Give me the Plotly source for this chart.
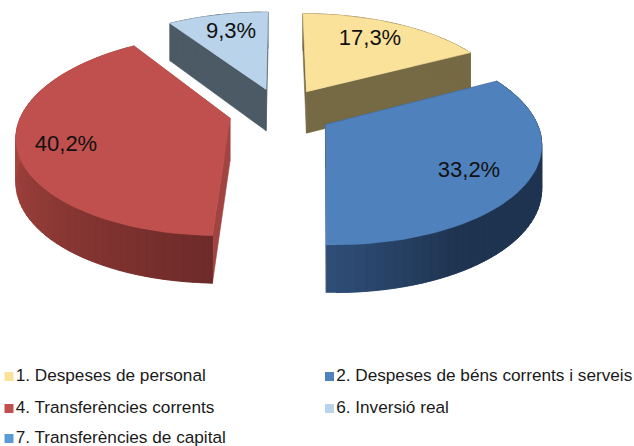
import math
import plotly.graph_objects as go

# --- data ---
categories = ["1. Despeses de personal", "2. Despeses de béns corrents i serveis",
              "4. Transferències corrents", "6. Inversió real", "7. Transferències de capital"]
values = [17.3, 33.2, 40.2, 9.3, 0.0]
value_labels = ["17,3%", "33,2%", "40,2%", "9,3%", ""]

# --- styling ---
top_colors = ["#fbe29a", "#4f81bd", "#c0504d", "#b9d3ea", "#5b9bd5"]
edge_colors = ["#766a45", "#2b4a70", "#a04341", "#4b5a64", "#2b4a70"]
rim_from = ["#766a45", "#1f3450", "#6c2a29", "#4b5a64", "#2b4a70"]
rim_to = ["#766a45", "#2f4f7a", "#a8453f", "#4b5a64", "#2b4a70"]
rim_deg = [(0, 360), (150, 182), (182, 270), (0, 360), (0, 360)]
draw_order = [3, 0, 2, 1]
label_pos = [(370, 39), (469, 171.5), (66, 145.5), (231, 32)]
legend_pos = [(9, 376.5), (329.5, 376.5), (9, 408.5), (329.5, 408.5), (9, 438.5)]

# --- projection of the tilted, exploded pie ---
CX, CY, RX, RY, PERSP, EXPLODE = 280.5, 111.6, 207.6, 96.3, 0.16, 0.25


def project(U, V, lower=False):
    den = 1 - PERSP * V
    x = CX + RX * U / den
    y = CY + RY * V / den
    if lower:
        y += 42.5 + 4.7 * V
    return x, y


def hex_mix(a, b, t):
    t = max(0.0, min(1.0, t))
    ca = [int(a[i:i + 2], 16) for i in (1, 3, 5)]
    cb = [int(b[i:i + 2], 16) for i in (1, 3, 5)]
    return "rgb(%d,%d,%d)" % tuple(round(p + (q - p) * t) for p, q in zip(ca, cb))


total = sum(values)
spans = []
acc = 0.0
for v in values:
    spans.append((acc / total * 2 * math.pi, (acc + v) / total * 2 * math.pi))
    acc += v

fig = go.Figure()


def poly(pts, color):
    fig.add_trace(go.Scatter(
        x=[p[0] for p in pts] + [pts[0][0]], y=[p[1] for p in pts] + [pts[0][1]],
        mode="lines", fill="toself", fillcolor=color,
        line=dict(color=color, width=0.6), hoverinfo="skip", showlegend=False))


for i in draw_order:
    a0, a1 = spans[i]
    mid = (a0 + a1) / 2
    ox, oy = EXPLODE * math.sin(mid), -EXPLODE * math.cos(mid)
    steps = max(6, int(values[i] * 1.6))
    angles = [a0 + (a1 - a0) * k / steps for k in range(steps + 1)]
    rim = [(ox + math.sin(a), oy - math.cos(a)) for a in angles]
    # radial walls
    for end in (rim[0], rim[-1]):
        poly([project(ox, oy), project(*end), project(*end, True), project(ox, oy, True)], edge_colors[i])
    # rim wall, shaded piece by piece; each piece overlaps the next so no seams show
    d0, d1 = rim_deg[i]
    order = range(steps) if rim_deg[i][0] > 150 else range(steps - 1, -1, -1)
    for k in order:
        j = min(k + 1, steps)
        lo = max(k - 1, 0)
        deg = math.degrees(angles[k] + angles[j]) / 2
        poly([project(*rim[lo]), project(*rim[j]), project(*rim[j], True), project(*rim[lo], True)],
             hex_mix(rim_from[i], rim_to[i], (deg - d0) / (d1 - d0)))
    # top face
    poly([project(ox, oy)] + [project(*r) for r in rim], top_colors[i])

# value labels
for i in draw_order:
    fig.add_trace(go.Scatter(
        x=[label_pos[i][0]], y=[label_pos[i][1]], mode="text", text=[value_labels[i]],
        textposition="middle center", textfont=dict(family="Liberation Sans", size=22, color="#111111"),
        hoverinfo="skip", showlegend=False))

# legend entries
for name, color, (x, y) in zip(categories, top_colors, legend_pos):
    fig.add_trace(go.Scatter(
        x=[x], y=[y], mode="markers+text", name=name, text=[name], textposition="middle right",
        marker=dict(symbol="square", size=9, color=color, line=dict(width=0)),
        textfont=dict(family="Liberation Sans", size=17.2, color="#1a1a1a"),
        cliponaxis=False, showlegend=False))

fig.update_layout(
    width=634, height=446, margin=dict(l=0, r=0, t=0, b=0),
    paper_bgcolor="white", plot_bgcolor="white", showlegend=False,
    xaxis=dict(range=[0, 634], visible=False, fixedrange=True),
    yaxis=dict(range=[446, 0], visible=False, fixedrange=True),
)
fig.write_html("out.html", config={"displayModeBar": False},
               post_script="document.body.style.margin='0';document.body.style.overflow='hidden';")
